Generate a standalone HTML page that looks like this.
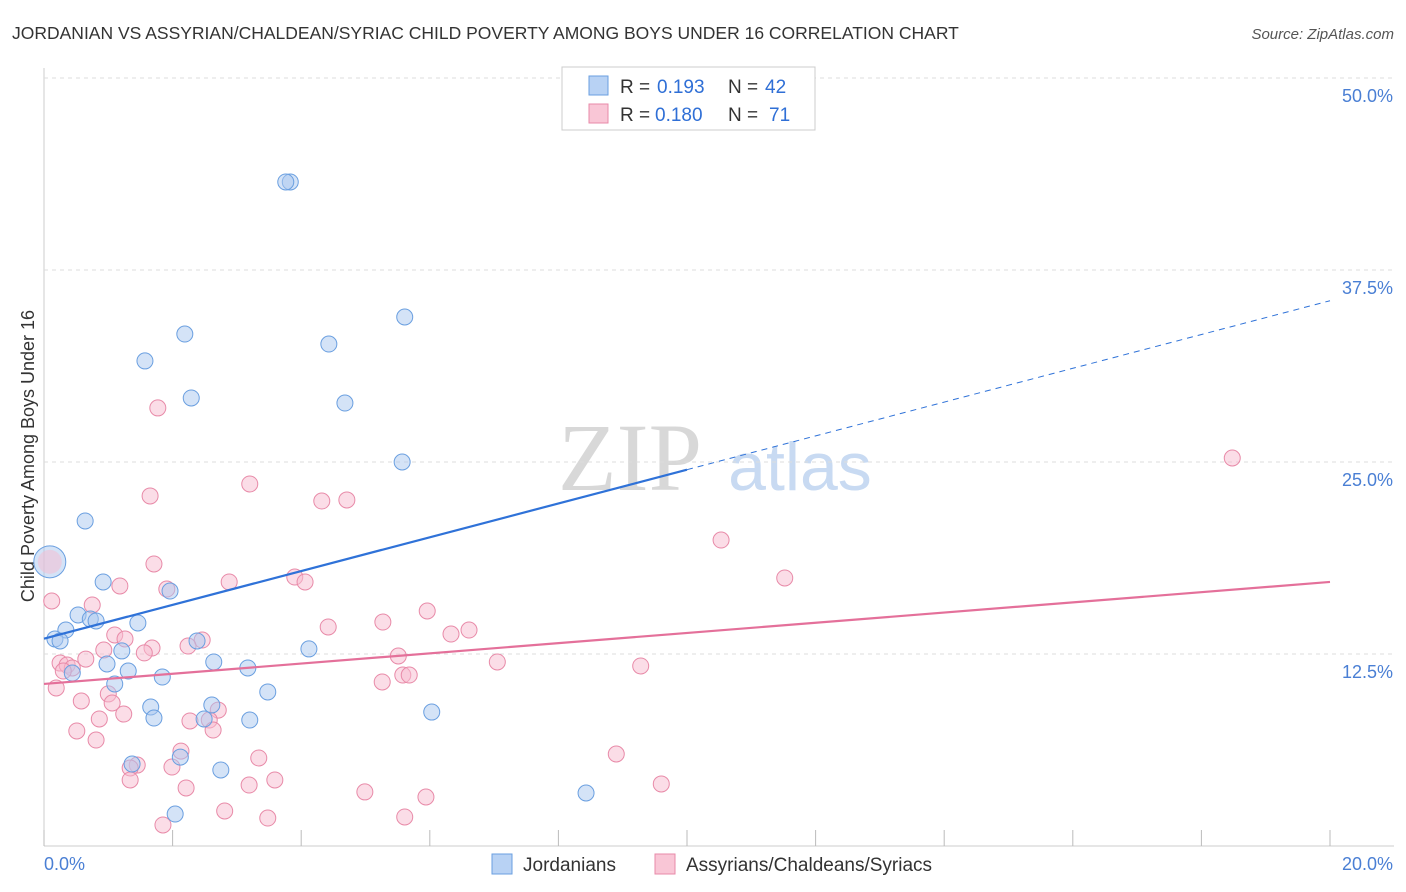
<!DOCTYPE html>
<html><head><meta charset="utf-8"><style>
body{margin:0;background:#fff;font-family:"Liberation Sans",sans-serif;}
#wrap{position:relative;width:1406px;height:892px;overflow:hidden;}
</style></head><body>
<div id="wrap">
<svg id="svg" width="1406" height="892" xmlns="http://www.w3.org/2000/svg">
<text x="12" y="39" font-size="17.5" fill="#333">JORDANIAN VS ASSYRIAN/CHALDEAN/SYRIAC CHILD POVERTY AMONG BOYS UNDER 16 CORRELATION CHART</text>
<text x="1394" y="39" font-size="15" fill="#555" font-style="italic" text-anchor="end">Source: ZipAtlas.com</text>
<text x="630" y="490" font-size="96" fill="#d8d8d8" font-family="Liberation Serif,serif" text-anchor="middle">ZIP</text>
<text x="800" y="490" font-size="68" fill="#c8daf2" text-anchor="middle">atlas</text>
<text transform="translate(34,456) rotate(-90)" font-size="18" fill="#333" text-anchor="middle">Child Poverty Among Boys Under 16</text>
<g id="grid"></g><g id="marks"></g>
<g>
<rect x="562" y="67" width="253" height="63" fill="#fff" stroke="#ccc"/>
<rect x="589" y="76" width="19" height="19" fill="#b8d2f4" stroke="#6a9fe0"/>
<rect x="589" y="104" width="19" height="19" fill="#f9c6d6" stroke="#e88aa8"/>
<text x="620" y="93" font-size="19" fill="#333">R =</text>
<text x="657" y="93" font-size="19" fill="#2f6fd6">0.193</text>
<text x="728" y="93" font-size="19" fill="#333">N =</text>
<text x="765" y="93" font-size="19" fill="#2f6fd6">42</text>
<text x="620" y="121" font-size="19" fill="#333">R =</text>
<text x="655" y="121" font-size="19" fill="#2f6fd6">0.180</text>
<text x="728" y="121" font-size="19" fill="#333">N =</text>
<text x="769" y="121" font-size="19" fill="#2f6fd6">71</text>
</g>
<g>
<rect x="492" y="854" width="20" height="20" fill="#b8d2f4" stroke="#6a9fe0"/>
<text x="523" y="871" font-size="19" fill="#333">Jordanians</text>
<rect x="655" y="854" width="20" height="20" fill="#f9c6d6" stroke="#e88aa8"/>
<text x="686" y="871" font-size="19" fill="#333">Assyrians/Chaldeans/Syriacs</text>
</g>
</svg>
<script>
const yTicks=[12.5,25.0,37.5,50.0];
const xTickLabels=["0.0%","20.0%"];
const blueX=[3.83,3.76,5.61,2.19,1.57,4.43,2.29,4.68,5.57,0.64,0.92,1.96,0.53,0.72,0.81,0.34,1.46,0.17,0.25,1.21,2.38,4.12,0.98,2.64,3.17,0.44,1.31,1.84,1.1,3.48,2.61,1.66,1.71,2.49,3.2,6.03,1.37,2.12,2.75,2.04,8.43];
const blueY=[43.23,43.23,34.44,33.33,31.58,32.68,29.17,28.84,25.0,21.16,17.19,16.6,15.04,14.78,14.65,14.06,14.52,13.48,13.35,12.7,13.35,12.83,11.85,11.98,11.59,11.26,11.39,11.0,10.55,10.03,9.18,9.05,8.33,8.27,8.2,8.72,5.34,5.79,4.95,2.08,3.45];
const pinkX=[18.48,10.53,11.52,1.77,3.2,1.65,4.32,4.71,1.71,2.88,3.9,4.06,1.18,1.91,0.12,0.75,5.96,5.27,6.61,6.33,4.42,1.1,1.26,2.46,2.24,1.68,1.56,0.93,5.51,0.25,0.36,0.65,0.44,0.3,7.05,9.28,0.19,1.0,5.26,5.58,5.68,0.58,1.06,2.71,1.24,0.86,2.27,2.57,2.63,0.51,0.81,2.13,3.34,8.9,1.45,1.34,1.99,3.59,1.34,2.21,3.19,9.6,4.99,5.94,2.81,3.48,5.61,1.85];
const pinkY=[25.26,19.92,17.45,28.52,23.57,22.79,22.46,22.53,18.36,17.19,17.51,17.19,16.93,16.73,15.95,15.69,15.3,14.58,14.06,13.8,14.26,13.74,13.48,13.41,13.02,12.89,12.57,12.76,12.37,11.91,11.78,12.17,11.59,11.39,11.98,11.72,10.29,9.9,10.68,11.13,11.13,9.44,9.31,8.85,8.59,8.27,8.14,8.2,7.55,7.49,6.9,6.18,5.73,5.99,5.27,5.08,5.14,4.3,4.3,3.78,3.97,4.04,3.52,3.19,2.28,1.82,1.89,1.37];
const bigX=[0.09],bigY=[18.5];
const blueTrend=[13.5,35.5],pinkTrend=[10.55,17.19],trendSplit=10;
const X=v=>44+v*64.3, Y=v=>846-v*15.36;
const NS="http://www.w3.org/2000/svg";
const grid=document.getElementById('grid'),marks=document.getElementById('marks');
function mk(tag,attrs,parent){const e=document.createElementNS(NS,tag);for(const k in attrs)e.setAttribute(k,attrs[k]);parent.appendChild(e);return e;}
let l=mk('line',{x1:44,x2:44,y1:68,y2:846,stroke:'#ccc'},grid);

l=mk('line',{x1:44,x2:1394,y1:846,y2:846,stroke:'#ccc'},grid);

yTicks.forEach(t=>{const g=mk('line',{x1:44,x2:1394,y1:Y(t),y2:Y(t),stroke:'#ddd','stroke-dasharray':'4,4'},grid);

const tx=mk('text',{x:1393,y:Y(t)+24,'font-size':18,fill:'#4a7fd4','text-anchor':'end'},grid);tx.textContent=t.toFixed(1)+'%';
});
for(let i=0;i<=10;i++){const t=mk('line',{x1:X(i*2),x2:X(i*2),y1:830,y2:846,stroke:'#bbb'},grid);
}
let t1=mk('text',{x:44,y:870,'font-size':18,fill:'#4a7fd4'},grid);t1.textContent=xTickLabels[0];

let t2=mk('text',{x:1393,y:870,'font-size':18,fill:'#4a7fd4','text-anchor':'end'},grid);t2.textContent=xTickLabels[1];

function dot(x,y,r,c){const e=mk('circle',{cx:X(x),cy:Y(y),r:r,fill:c[0],'fill-opacity':0.5,stroke:c[1],'stroke-width':1},marks);return e;}
const B=['#a9c8f0','#6a9fe0'],P=['#f7bcd0','#e88aa8'];
pinkX.forEach((x,i)=>{const e=dot(x,pinkY[i],8,P);
});
blueX.forEach((x,i)=>{const e=dot(x,blueY[i],8,B);
});
bigX.forEach((x,i)=>{const e=dot(x,bigY[i],16,B);

const p=mk('circle',{cx:X(x),cy:Y(bigY[i]),r:12,fill:P[0],'fill-opacity':0.5},marks);
});
const by=v=>blueTrend[0]+(blueTrend[1]-blueTrend[0])*v/20;
let bl=mk('line',{x1:X(0),y1:Y(by(0)),x2:X(trendSplit),y2:Y(by(trendSplit)),stroke:'#2f72d8','stroke-width':2.2},marks);

let bd=mk('line',{x1:X(trendSplit),y1:Y(by(trendSplit)),x2:X(20),y2:Y(by(20)),stroke:'#2f72d8','stroke-width':1,'stroke-dasharray':'6,5'},marks);

let pl=mk('line',{x1:X(0),y1:Y(pinkTrend[0]),x2:X(20),y2:Y(pinkTrend[1]),stroke:'#e4709a','stroke-width':2.2},marks);

</script>
</div>
</body></html>
